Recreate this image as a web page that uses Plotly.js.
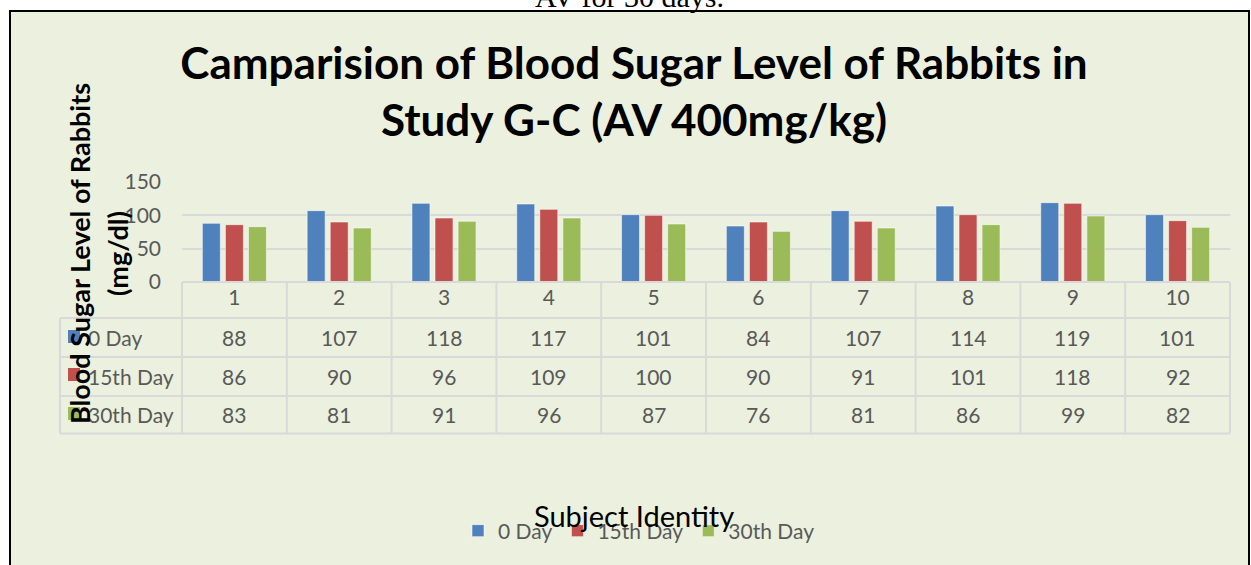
<!DOCTYPE html>
<html>
<head>
<meta charset="utf-8">
<script src="https://cdn.plot.ly/plotly-3.0.1.min.js"></script>
<style>html,body{margin:0;padding:0;background:#fff;}#chart{width:1251px;height:565px;}</style>
</head>
<body>
<div id="chart"></div>
<script>
// ---- data ----
const subjects = ["1","2","3","4","5","6","7","8","9","10"];
const seriesNames = ["0 Day","15th Day","30th Day"];
const day0  = [88,107,118,117,101,84,107,114,119,101];
const day15 = [86,90,96,109,100,90,91,101,118,92];
const day30 = [83,81,91,96,87,76,81,86,99,82];
const yTicks = [0,50,100,150];

const seriesValues = [day0, day15, day30];
const colors = ["#4F81BD","#C0504D","#9BBB59"];
const FONT = "Lato, 'Open Sans', sans-serif";
const GREY = "#595959";
const LINE = "#D9D9D9";

// geometry helpers (plot area: 182..1230 px horizontally, 182..282 px vertically)
const L = 182, R = 1230, T = 182, B = 282;
const px = x => (x - L) / (R - L);
const py = y => (B - y) / (B - T);

const traces = seriesValues.map((vals, i) => ({
  type: "bar",
  name: seriesNames[i],
  x: subjects,
  y: vals,
  marker: {color: colors[i], line: {color: "rgba(255,255,255,0.55)", width: 1}},
  hoverinfo: "x+y+name"
}));

const rowCenters = [337, 376, 414];
const rowLines = [318, 357, 396, 433.5];
const keyBoxes = [[330,343],[368,381],[407,420]];

const shapes = [];
// chart area background + border
shapes.push({type:"rect", xref:"paper", yref:"paper", x0:px(10), x1:px(1249), y0:py(11), y1:py(575),
  fillcolor:"#EBF1DE", line:{color:"#000", width:2}, layer:"below"});
// table: top line
shapes.push({type:"line", xref:"paper", yref:"paper", x0:0, x1:1, y0:0, y1:0, line:{color:LINE, width:2}});
// horizontal lines
rowLines.forEach(y => shapes.push({type:"line", xref:"paper", yref:"paper", x0:px(60), x1:1, y0:py(y), y1:py(y), line:{color:LINE, width:2}}));
// vertical lines between categories
for (let k = 0; k <= subjects.length; k++) {
  shapes.push({type:"line", xref:"paper", yref:"paper", x0:k/subjects.length, x1:k/subjects.length, y0:0, y1:py(433.5), line:{color:LINE, width:2}});
}
shapes.push({type:"line", xref:"paper", yref:"paper", x0:px(60), x1:px(60), y0:py(318), y1:py(433.5), line:{color:LINE, width:2}});
// legend keys in table
keyBoxes.forEach((b, i) => shapes.push({type:"rect", xref:"paper", yref:"paper", x0:px(68), x1:px(80), y0:py(b[0]), y1:py(b[1]), fillcolor:colors[i], line:{width:0}}));

const annotations = [];
// table values
seriesValues.forEach((vals, i) => {
  vals.forEach((v, j) => annotations.push({
    xref:"x", yref:"paper", x:j, y:py(rowCenters[i]), text:String(v), showarrow:false,
    xanchor:"center", yanchor:"middle", font:{family:FONT, size:21, color:GREY}
  }));
  annotations.push({xref:"paper", yref:"paper", x:px(86), y:py(rowCenters[i]), text:seriesNames[i], showarrow:false,
    xanchor:"left", yanchor:"middle", font:{family:FONT, size:21, color:GREY}});
});
// y-axis title (two lines)
annotations.push({xref:"paper", yref:"paper", x:px(79), y:py(254), text:"Blood Sugar Level of Rabbits", textangle:-90,
  showarrow:false, xanchor:"center", yanchor:"middle", font:{family:FONT, size:27, color:"#000", weight:700}});
annotations.push({xref:"paper", yref:"paper", x:px(117), y:py(254), text:"(mg/dl)", textangle:-90,
  showarrow:false, xanchor:"center", yanchor:"middle", font:{family:FONT, size:27, color:"#000", weight:700}});
// x-axis title
annotations.push({xref:"paper", yref:"paper", x:px(634), y:py(515), text:"Subject Identity",
  showarrow:false, xanchor:"center", yanchor:"middle", font:{family:FONT, size:29, color:"#000"}});
// cropped caption above the chart
annotations.push({xref:"paper", yref:"paper", x:px(629), y:py(15), text:"AV for 30 days.", showarrow:false,
  xanchor:"center", yanchor:"bottom", font:{family:"'Liberation Serif', 'DejaVu Serif', serif", size:30, color:"#000"}});

const layout = {
  width:1251, height:565,
  margin:{l:L, r:1251-R, t:T, b:565-B, pad:0},
  paper_bgcolor:"#FFFFFF", plot_bgcolor:"rgba(0,0,0,0)",
  barmode:"group", bargap:0.34, bargroupgap:0.22,
  title:{text:"Camparision of Blood Sugar Level of Rabbits in<br>Study G-C (AV 400mg/kg)",
    xref:"container", yref:"container", x:634/1251, xanchor:"center", y:1 - 79/565, yanchor:"top",
    font:{family:FONT, size:44, color:"#000", weight:700}},
  xaxis:{type:"category", categoryarray:subjects, range:[-0.5, subjects.length-0.5], showgrid:false, zeroline:false,
    showline:false, ticks:"", ticklabelstandoff:1, tickfont:{family:FONT, size:21, color:GREY}, automargin:false},
  yaxis:{range:[0,150], tickvals:yTicks, showgrid:true, gridcolor:LINE, gridwidth:1.5, zeroline:false, showline:false,
    ticks:"", ticklabelstandoff:20, tickfont:{family:FONT, size:21, color:GREY}, automargin:false},
  legend:{orientation:"h", xref:"paper", yref:"container", x:px(639), xanchor:"center", y:34/565, yanchor:"middle",
    font:{family:FONT, size:21, color:GREY}, bgcolor:"rgba(0,0,0,0)", traceorder:"normal"},
  showlegend:true,
  shapes:shapes,
  annotations:annotations
};

Plotly.newPlot("chart", traces, layout, {displayModeBar:false, responsive:false});
</script>
</body>
</html>
